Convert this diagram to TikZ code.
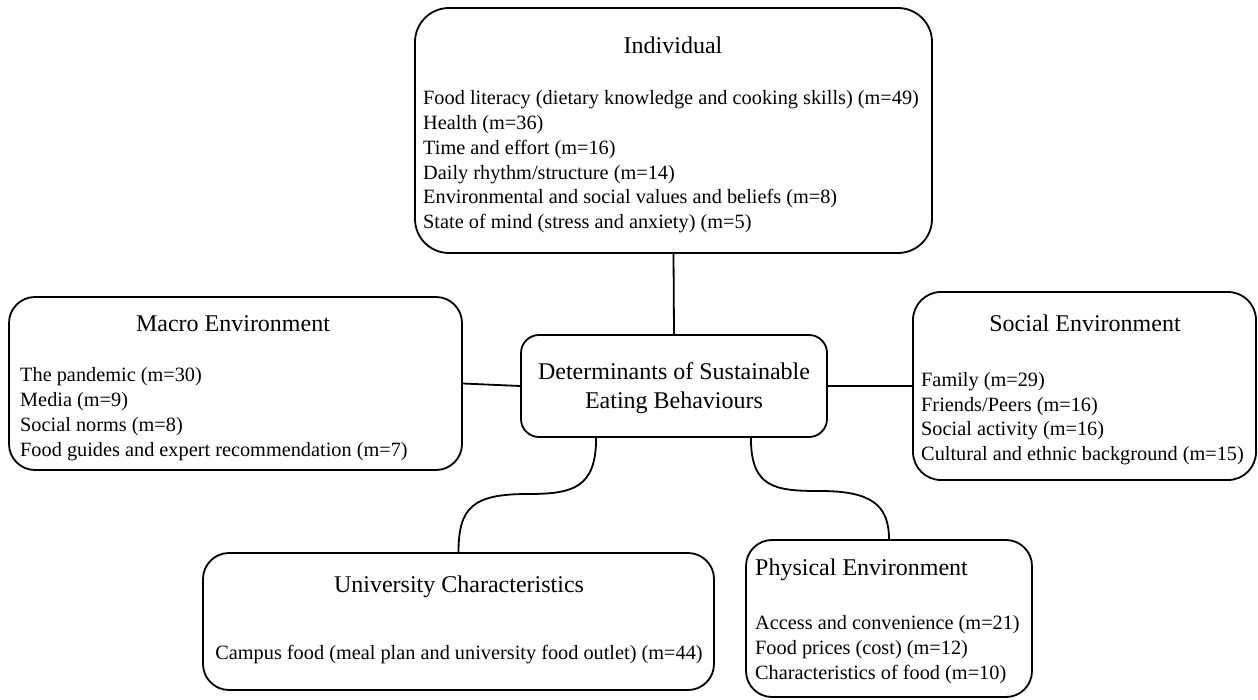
\documentclass[tikz,border=0pt]{standalone}
\usepackage{fontspec}
\setmainfont{Liberation Serif}
\begin{document}
\begin{tikzpicture}[x=1pt, y=-1pt,
  box/.style={draw, line width=1.8pt, rounded corners=26pt, inner sep=0pt},
  heading/.style={font=\fontsize{24}{29}\selectfont, inner sep=0pt},
  items/.style={font=\fontsize{20.3}{24.8}\selectfont, align=left, inner sep=0pt, anchor=north west},
  link/.style={line width=1.8pt}]
\useasboundingbox (0,0) rectangle (1258,700);

% frames
\node[box, rounded corners=34pt, minimum width=517pt, minimum height=245pt] (ind) at (673.5,130.5) {};
\node[box, minimum width=453pt, minimum height=173pt] (macro) at (235.5,383.5) {};
\node[box, rounded corners=28pt, minimum width=343pt, minimum height=188pt] (social) at (1084.5,386) {};
\node[box, rounded corners=18pt, minimum width=306pt, minimum height=102pt] (center) at (674,386) {};
\node[box, minimum width=511pt, minimum height=137pt] (univ) at (458.5,621.5) {};
\node[box, minimum width=286pt, minimum height=157pt] (phys) at (889,618.5) {};

% centre text
\node[heading, align=center] (ctext) at (674,388) {Determinants of Sustainable\\Eating Behaviours};

% Individual
\node[heading] (indt) at (673,45) {Individual};
\node[items] (indl) at (423,90.5) {Food literacy (dietary knowledge and cooking skills) (m=49)\\
Health (m=36)\\
Time and effort (m=16)\\
Daily rhythm/structure (m=14)\\
Environmental and social values and beliefs (m=8)\\
State of mind (stress and anxiety) (m=5)};

% Macro Environment
\node[heading] (macrot) at (233,324) {Macro Environment};
\node[items] (macrol) at (20,367.5) {The pandemic (m=30)\\
Media (m=9)\\
Social norms (m=8)\\
Food guides and expert recommendation (m=7)};

% Social Environment
\node[heading] (socialt) at (1085,323) {Social Environment};
\node[items] (sociall) at (921,372) {Family (m=29)\\
Friends/Peers (m=16)\\
Social activity (m=16)\\
Cultural and ethnic background (m=15)};

% University Characteristics
\node[heading] (univt) at (459,587) {University Characteristics};
\node[items, anchor=center] (univl) at (459,655) {Campus food (meal plan and university food outlet) (m=44)};

% Physical Environment
\node[heading, anchor=west] (physt) at (755,570) {Physical Environment};
\node[items] (physl) at (755,615.5) {Access and convenience (m=21)\\
Food prices (cost) (m=12)\\
Characteristics of food (m=10)};

% connectors
\draw[link] (ind.south) -- (center.north);
\draw[link] (macro.east) -- (center.west);
\draw[link] (center.east) -- (social.west);
\coordinate (um) at (528,494);
\coordinate (pm) at (820,491);
\draw[link] ([xshift=76pt]center.south west) .. controls +(0,50) and +(45,0) .. (um)
  .. controls +(-55,0) and +(0,-45) .. (univ.north);
\draw[link] ([xshift=-77pt]center.south east) .. controls +(0,50) and +(-45,0) .. (pm)
  .. controls +(50,0) and +(0,-35) .. (phys.north);
\end{tikzpicture}
\end{document}
